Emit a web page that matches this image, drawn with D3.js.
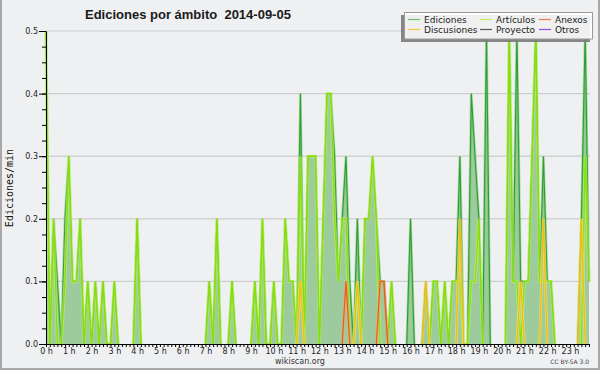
<!DOCTYPE html>
<html><head><meta charset="utf-8">
<script src="https://cdn.jsdelivr.net/npm/d3@7"></script>
<style>body{margin:0;background:#eff0f2}svg{display:block}</style>
</head><body><svg id="c" width="600" height="370"></svg>
<script>
const titleText = "Ediciones por ámbito  2014-09-05";
const yLabel = "Ediciones/min";
const hourLabels = ["0 h","1 h","2 h","3 h","4 h","5 h","6 h","7 h","8 h","9 h","10 h","11 h",
  "12 h","13 h","14 h","15 h","16 h","17 h","18 h","19 h","20 h","21 h","22 h","23 h"];
const yTickLabels = ["0.0","0.1","0.2","0.3","0.4","0.5"];
// one value per 10 minutes (144 points)
const ediciones = [
  0.5,0,0.2,0.1,0,0.2,0.3,0.1,0.1,0.2,0,0.1,
  0,0.1,0,0.1,0,0,0.1,0,0,0,0,0,
  0.2,0,0,0,0,0,0,0,0,0,0,0,
  0,0,0,0,0,0,0,0.1,0,0.2,0,0,
  0,0.1,0,0,0,0,0,0.1,0,0.2,0,0,
  0.1,0,0,0.2,0.1,0.1,0,0.4,0,0.3,0.3,0.3,
  0,0.2,0.4,0.4,0.3,0.1,0.2,0.3,0.1,0,0.2,0,
  0.2,0.2,0.3,0.2,0.1,0.1,0,0.1,0,0,0,0,
  0.2,0,0,0,0.1,0,0.1,0.1,0,0.1,0,0.1,
  0.1,0.3,0,0,0.4,0.3,0.2,0,0.5,0,0,0,
  0,0,0.5,0.1,0.5,0.1,0.1,0.1,0.3,0.5,0.1,0.3,
  0.1,0.1,0,0,0,0,0,0,0,0.2,0.5,0.1];
const articulos = [
  0.5,0,0.2,0,0,0.1,0.3,0.1,0.1,0.2,0,0.1,
  0,0.1,0,0.1,0,0,0.1,0,0,0,0,0,
  0.2,0,0,0,0,0,0,0,0,0,0,0,
  0,0,0,0,0,0,0,0.1,0,0.2,0,0,
  0,0.1,0,0,0,0,0,0.1,0,0.2,0,0,
  0.1,0,0,0.2,0.1,0.1,0,0.3,0,0.3,0.3,0.3,
  0,0.2,0.4,0.4,0.2,0.1,0.2,0.2,0,0,0.1,0,
  0.2,0.2,0.3,0.2,0,0,0,0.1,0,0,0,0,
  0,0,0,0,0,0,0.1,0.1,0,0.1,0,0.1,
  0.1,0.1,0,0,0.1,0.1,0.2,0,0,0,0,0,
  0,0,0.5,0.1,0.1,0,0.1,0.1,0.3,0.5,0.1,0.1,
  0.1,0.1,0,0,0,0,0,0,0,0,0.3,0.1];
const anexosPts = [[79,0.1],[88,0.1],[89,0.1]];
const discusionesPts = [[67,0.1],[82,0.1],[100,0.1],[109,0.2],[125,0.1],[131,0.2],[141,0.2]];
const legendNames = ["Ediciones","Artículos","Anexos","Discusiones","Proyecto","Otros"];
const legendColors = ["#66c466","#c8f060","#f47a4a","#f8c838","#555555","#9a48f0"];
const credit = "wikiscan.org";
const license = "CC BY-SA 3.0";

const N = ediciones.length;
const toSeries = pts => { const a = new Array(N).fill(0); pts.forEach(([i,v]) => a[i] = v); return a; };
const anexos = toSeries(anexosPts);
const discusiones = toSeries(discusionesPts);

const svg = d3.select("#c");
svg.append("rect").attr("width",600).attr("height",370).attr("fill","#eff0f2");

const x = d3.scaleLinear().domain([0, N-1]).range([46, 589]);
const y = d3.scaleLinear().domain([0, 0.5]).range([344, 31]);

// grid
svg.append("g").selectAll("line").data([0.1,0.2,0.3,0.4,0.5]).join("line")
  .attr("x1",46).attr("x2",590).attr("y1",d=>y(d)).attr("y2",d=>y(d))
  .attr("stroke","#cdcdcd").attr("stroke-width",1.2);

const maskedLine = data => d3.line()
  .defined((d,i)=> d>0 || (i>0 && data[i-1]>0) || (i<N-1 && data[i+1]>0))
  .x((d,i)=>x(i)).y(d=>y(d));

// area
const area = d3.area().x((d,i)=>x(i)).y0(y(0)).y1(d=>y(d));
svg.append("path").datum(ediciones).attr("d",area).attr("fill","#9ecb9e");
svg.append("path").datum(ediciones).attr("d",maskedLine(ediciones)).attr("fill","none")
  .attr("stroke","#5cbf5c").attr("stroke-width",2.6).attr("stroke-opacity",0.45);
svg.append("path").datum(ediciones).attr("d",maskedLine(ediciones)).attr("fill","none")
  .attr("stroke","#2f9f2f").attr("stroke-width",1.1);

function drawSeries(data, halo, core) {
  const ln = maskedLine(data);
  svg.append("path").datum(data).attr("d",ln).attr("fill","none")
    .attr("stroke",halo).attr("stroke-width",3).attr("stroke-opacity",0.55);
  svg.append("path").datum(data).attr("d",ln).attr("fill","none")
    .attr("stroke",core).attr("stroke-width",1.2);
}
drawSeries(articulos, "#c8f56a", "#86e000");
drawSeries(discusiones, "#fbe080", "#f2c000");
drawSeries(anexos, "#f8a070", "#f05a1a");

// axes
const xAxis = d3.axisBottom(x).tickValues(d3.range(0, N)).tickSize(3).tickSizeOuter(0).tickPadding(1)
  .tickFormat(d => d % 6 === 0 ? hourLabels[d/6] : "");
const gx = svg.append("g").attr("transform",`translate(0,${y(0)})`).call(xAxis);
gx.select(".domain").attr("stroke","#000").attr("d","M45.5,0.5H590");
gx.selectAll(".tick line").attr("stroke","#000");
gx.selectAll("text").attr("font-family","DejaVu Sans").attr("font-size",8).attr("fill","#222");

const yMinor = d3.axisLeft(y).tickValues(d3.range(0, 21).map(k=>k*0.025)).tickSize(4).tickSizeOuter(0).tickFormat("");
const gym = svg.append("g").attr("transform","translate(46,0)").call(yMinor);
gym.select(".domain").attr("stroke","#000");
gym.selectAll(".tick line").attr("stroke","#000");
const yMajor = d3.axisLeft(y).tickValues([0,0.1,0.2,0.3,0.4,0.5]).tickSize(7).tickSizeOuter(0).tickPadding(1)
  .tickFormat((d,i)=>yTickLabels[i]);
const gy = svg.append("g").attr("transform","translate(46,0)").call(yMajor);
gy.select(".domain").remove();
gy.selectAll(".tick line").attr("stroke","#000");
gy.selectAll("text").attr("font-family","DejaVu Sans").attr("font-size",8).attr("fill","#222");

// texts
svg.append("text").attr("x",85).attr("y",19).attr("font-family","Liberation Sans")
  .style("white-space","pre")
  .attr("font-weight","bold").attr("font-size",13).attr("fill","#1a1a1a").text(titleText);
svg.append("text").attr("transform","translate(13,188) rotate(-90)").attr("text-anchor","middle")
  .attr("font-family","DejaVu Sans Mono").attr("font-size",10).attr("fill","#111").text(yLabel);
svg.append("text").attr("x",300).attr("y",364).attr("text-anchor","middle")
  .attr("font-family","DejaVu Sans").attr("font-size",8).attr("fill","#333").text(credit);
svg.append("text").attr("x",589).attr("y",364).attr("text-anchor","end")
  .attr("font-family","DejaVu Sans").attr("font-size",6).attr("fill","#444").text(license);

// legend
svg.append("rect").attr("x",401).attr("y",15).attr("width",189).attr("height",27)
  .attr("fill","#7a7a7a").attr("fill-opacity",0.9);
svg.append("rect").attr("x",404.5).attr("y",12.5).attr("width",188).attr("height",26.5)
  .attr("fill","#ffffff").attr("fill-opacity",0.88).attr("stroke","#9a9a9a");
const colX = [408, 480, 539];
const rowY = [19.5, 29.5];
legendNames.forEach((name, k) => {
  const cx = colX[k % 3], ry = rowY[Math.floor(k / 3)];
  svg.append("line").attr("x1",cx).attr("x2",cx+12).attr("y1",ry).attr("y2",ry)
    .attr("stroke",legendColors[k]).attr("stroke-width",1.2);
  svg.append("text").attr("x",cx+16).attr("y",ry+3.5).attr("font-family","DejaVu Sans")
    .attr("font-size",9).attr("fill","#222").text(name);
});

// frame
svg.append("path").attr("d","M1,0V369H599V0").attr("fill","none").attr("stroke","#a8a8a8").attr("stroke-width",2);
</script></body></html>
